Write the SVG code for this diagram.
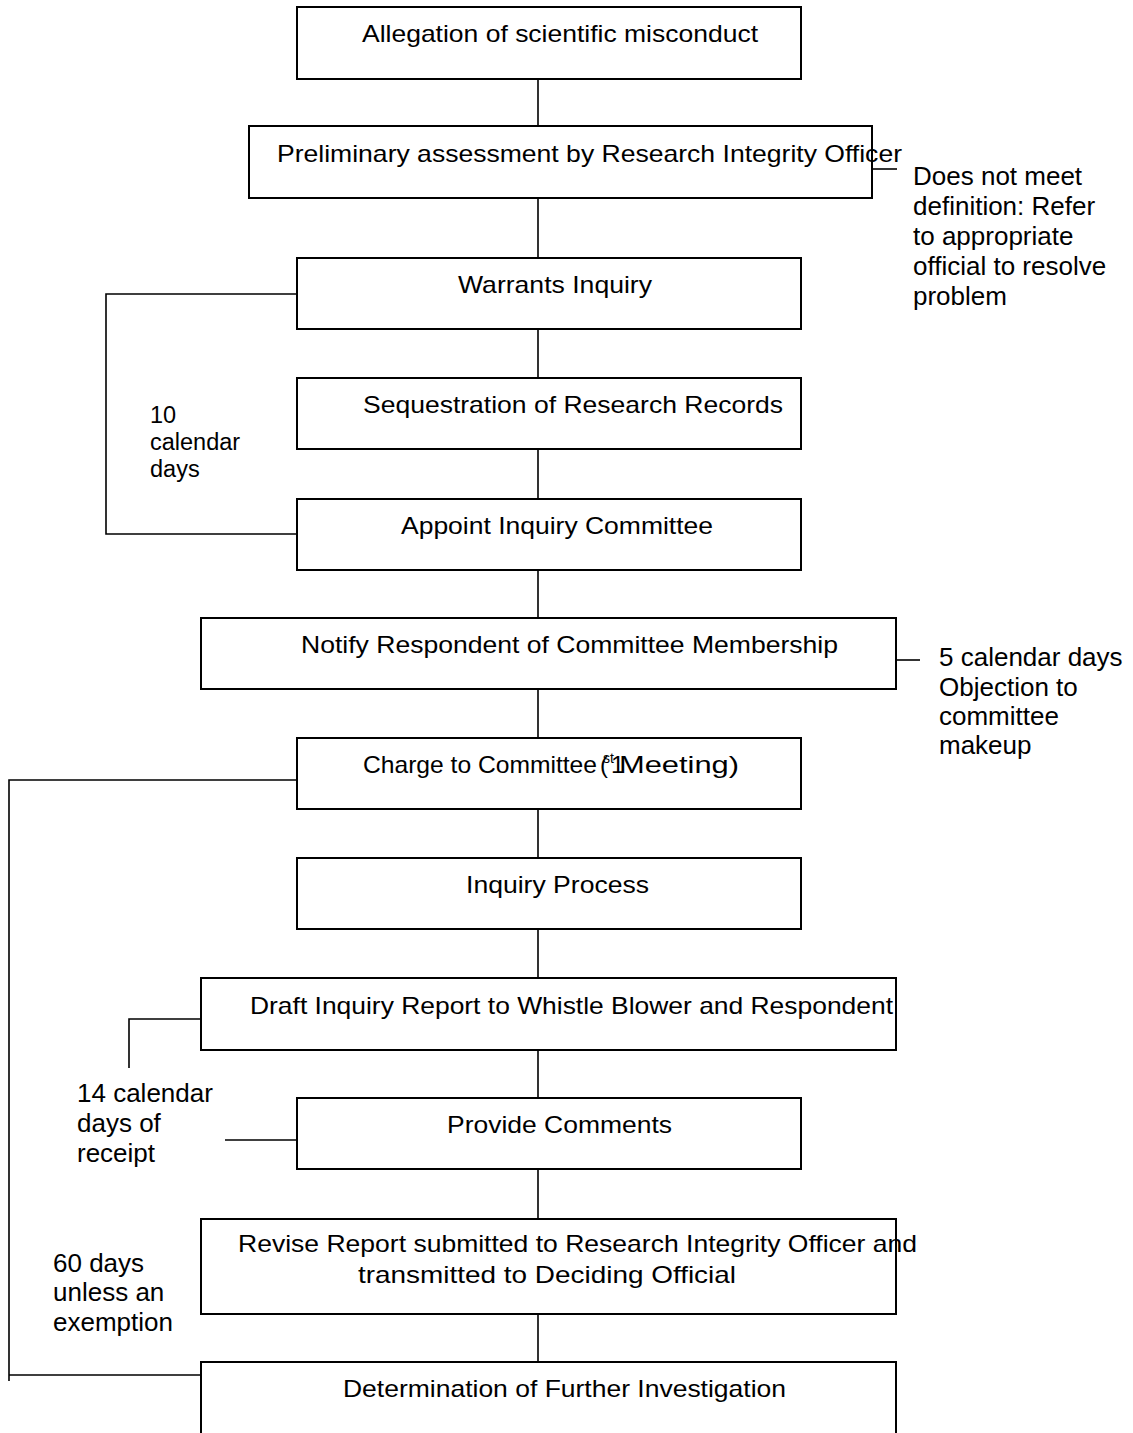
<svg xmlns="http://www.w3.org/2000/svg" width="1133" height="1433" viewBox="0 0 1133 1433">
<style>
.box{fill:#fff;stroke:#000;stroke-width:2}
.ln{fill:none;stroke:#000;stroke-width:1.6}
.t{font-family:"Liberation Sans",Arial,sans-serif;font-size:24px;fill:#000}
.s{font-family:"Liberation Sans",Arial,sans-serif;font-size:26px;fill:#000}
.s2{font-family:"Liberation Sans",Arial,sans-serif;font-size:23.5px;fill:#000}
</style>
<rect width="1133" height="1433" fill="#fff"/>
<g id="connectors">
<path class="ln" d="M538,79V126M538,198V258M538,329V378M538,449V499M538,570V618M538,689V738M538,809V858M538,929V978M538,1050V1098M538,1169V1219M538,1314V1363"/>
<path class="ln" d="M872,169H897"/>
<path class="ln" d="M297,294H106V534H297"/>
<path class="ln" d="M896,660H920"/>
<path class="ln" d="M297,780H9V1381M9,1375H201"/>
<path class="ln" d="M201,1019H129V1068"/>
<path class="ln" d="M225,1140H297"/>
</g>
<g id="n1"><rect class="box" x="297" y="7" width="504" height="72"/><text class="t" x="362" y="42" textLength="396" lengthAdjust="spacingAndGlyphs">Allegation of scientific misconduct</text></g>
<g id="n2"><rect class="box" x="249" y="126" width="623" height="72"/><text class="t" x="277" y="162" textLength="625" lengthAdjust="spacingAndGlyphs">Preliminary assessment by Research Integrity Officer</text></g>
<g id="n3"><rect class="box" x="297" y="258" width="504" height="71"/><text class="t" x="458" y="293" textLength="194" lengthAdjust="spacingAndGlyphs">Warrants Inquiry</text></g>
<g id="n4"><rect class="box" x="297" y="378" width="504" height="71"/><text class="t" x="363" y="413" textLength="420" lengthAdjust="spacingAndGlyphs">Sequestration of Research Records</text></g>
<g id="n5"><rect class="box" x="297" y="499" width="504" height="71"/><text class="t" x="401" y="534" textLength="312" lengthAdjust="spacingAndGlyphs">Appoint Inquiry Committee</text></g>
<g id="n6"><rect class="box" x="201" y="618" width="695" height="71"/><text class="t" x="301" y="653" textLength="537" lengthAdjust="spacingAndGlyphs">Notify Respondent of Committee Membership</text></g>
<g id="n7"><rect class="box" x="297" y="738" width="504" height="71"/><text class="t" y="773"><tspan x="363" textLength="234" lengthAdjust="spacingAndGlyphs">Charge to Committee</tspan><tspan x="600">(</tspan><tspan x="603" y="763" font-size="14">st</tspan><tspan x="611" y="773">1</tspan><tspan x="619" textLength="120" lengthAdjust="spacingAndGlyphs">Meeting)</tspan></text></g>
<g id="n8"><rect class="box" x="297" y="858" width="504" height="71"/><text class="t" x="466" y="893" textLength="183" lengthAdjust="spacingAndGlyphs">Inquiry Process</text></g>
<g id="n9"><rect class="box" x="201" y="978" width="695" height="72"/><text class="t" x="250" y="1014" textLength="643" lengthAdjust="spacingAndGlyphs">Draft Inquiry Report to Whistle Blower and Respondent</text></g>
<g id="n10"><rect class="box" x="297" y="1098" width="504" height="71"/><text class="t" x="447" y="1133" textLength="225" lengthAdjust="spacingAndGlyphs">Provide Comments</text></g>
<g id="n11"><rect class="box" x="201" y="1219" width="695" height="95"/><text class="t" x="238" y="1252" textLength="679" lengthAdjust="spacingAndGlyphs">Revise Report submitted to Research Integrity Officer and</text><text class="t" x="358" y="1283" textLength="378" lengthAdjust="spacingAndGlyphs">transmitted to Deciding Official</text></g>
<g id="n12"><path class="box" d="M201,1433V1362H896V1433"/><text class="t" x="343" y="1397" textLength="443" lengthAdjust="spacingAndGlyphs">Determination of Further Investigation</text></g>
<g id="labels">
<text class="s"><tspan x="913" y="185">Does not meet</tspan><tspan x="913" y="215">definition: Refer</tspan><tspan x="913" y="245">to appropriate</tspan><tspan x="913" y="275">official to resolve</tspan><tspan x="913" y="305">problem</tspan></text>
<text class="s2"><tspan x="150" y="423">10</tspan><tspan x="150" y="450">calendar</tspan><tspan x="150" y="477">days</tspan></text>
<text class="s"><tspan x="939" y="666">5 calendar days</tspan><tspan x="939" y="696">Objection to</tspan><tspan x="939" y="725">committee</tspan><tspan x="939" y="754">makeup</tspan></text>
<text class="s"><tspan x="77" y="1102">14 calendar</tspan><tspan x="77" y="1132">days of</tspan><tspan x="77" y="1162">receipt</tspan></text>
<text class="s"><tspan x="53" y="1272">60 days</tspan><tspan x="53" y="1301">unless an</tspan><tspan x="53" y="1331">exemption</tspan></text>
</g>
</svg>
